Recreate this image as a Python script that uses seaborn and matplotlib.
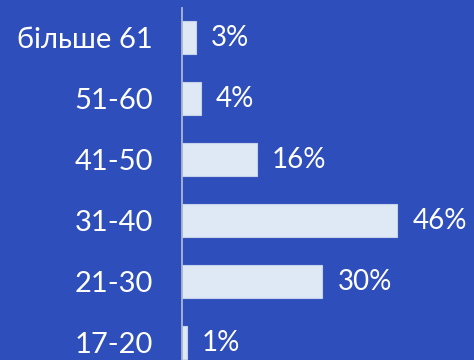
import matplotlib
matplotlib.use("Agg")
import matplotlib.pyplot as plt
import seaborn as sns
import pandas as pd

# age groups and share of respondents (%)
ages = ["більше 61", "51-60", "41-50", "31-40", "21-30", "17-20"]
shares = [3, 4, 16, 46, 30, 1]

bg = "#2E4EBB"
bar_color = "#DEE9F5"

sns.set_style("white")
plt.rcParams["font.family"] = ["Lato", "DejaVu Sans"]

df = pd.DataFrame({"age": ages, "share": shares})

fig = plt.figure(figsize=(4.74, 3.6), dpi=100)
fig.patch.set_facecolor(bg)
ax = fig.add_axes([0.384, 0.0, 0.616, 0.978])
ax.set_facecolor(bg)

sns.barplot(data=df, x="share", y="age", orient="h", color=bar_color,
            width=0.54, edgecolor="#C5D2EA", linewidth=0.8, saturation=1, ax=ax)

ax.bar_label(ax.containers[0], labels=[f"{v}%" for v in shares],
             padding=11, color="white", fontsize=20)

ax.set_xlim(0, 62.4)
ax.set_ylim(5.28, -0.49)
ax.set_xlabel("")
ax.set_ylabel("")
ax.set_xticks([])
ax.tick_params(axis="y", length=0, pad=21, labelsize=21, labelcolor="white")

for side in ["top", "right", "bottom"]:
    ax.spines[side].set_visible(False)
ax.spines["left"].set_color("#AEB8CF")
ax.spines["left"].set_linewidth(1.3)

fig.savefig("out.png", dpi=100, facecolor=bg)
